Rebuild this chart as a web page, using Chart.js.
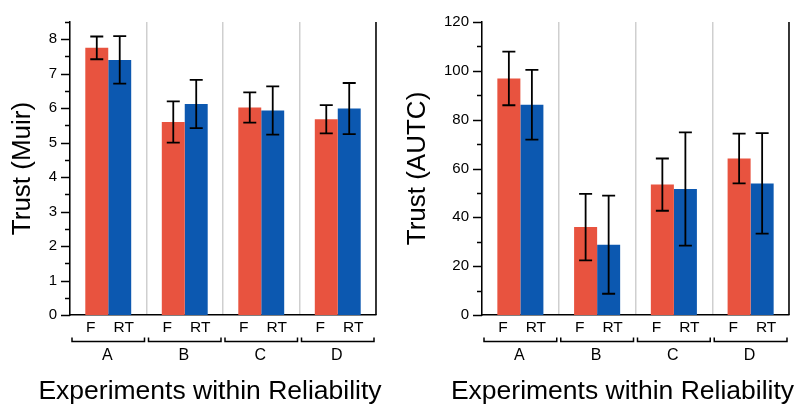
<!DOCTYPE html>
<html>
<head>
<meta charset="utf-8">
<script src="https://cdn.jsdelivr.net/npm/chart.js@4/dist/chart.umd.min.js"></script>
<style>
  body { margin: 0; background: #fff; }
  .box { position: absolute; top: 0; height: 411px; }
  #left { left: 0; width: 400px; }
  #right { left: 400px; width: 397px; }
</style>
</head>
<body>
<div class="box" id="left"><canvas id="muir"></canvas></div>
<div class="box" id="right"><canvas id="autc"></canvas></div>
<script>
const groups = ['A', 'B', 'C', 'D'];
const series = ['F', 'RT'];

// Trust (Muir): means and error half-widths
const muirF = [7.75, 5.60, 6.02, 5.68];
const muirFErr = [0.33, 0.60, 0.44, 0.41];
const muirRT = [7.40, 6.12, 5.93, 5.99];
const muirRTErr = [0.69, 0.70, 0.70, 0.74];

// Trust (AUTC)
const autcF = [96.9, 36.0, 53.4, 64.1];
const autcFErr = [11.0, 13.6, 10.7, 10.2];
const autcRT = [86.1, 28.8, 51.6, 53.9];
const autcRTErr = [14.3, 20.1, 23.2, 20.6];

const red = '#E8533F';
const blue = '#0C58B0';
const font = "'Liberation Sans', Arial, Helvetica, sans-serif";

function makeChart(id, cfg) {
  const extras = {
    id: 'extras',
    afterDraw(chart) {
      const ctx = chart.ctx;
      const area = chart.chartArea;
      const x = chart.scales.x;
      const y = chart.scales.y;
      ctx.save();
      ctx.strokeStyle = '#000';
      ctx.fillStyle = '#000';

      // right border
      ctx.lineWidth = 1.5;
      ctx.beginPath();
      ctx.moveTo(area.right, area.top);
      ctx.lineTo(area.right, area.bottom);
      ctx.stroke();

      // y ticks, major and minor
      for (let v = 0; v <= cfg.max + 1e-9; v += cfg.minor) {
        const py = Math.round(y.getPixelForValue(v)) + 0.5;
        const major = Math.abs(v / cfg.major - Math.round(v / cfg.major)) < 1e-6;
        ctx.beginPath();
        ctx.moveTo(area.left, py);
        ctx.lineTo(area.left - (major ? 9 : 5), py);
        ctx.stroke();
      }

      // error bars
      ctx.lineWidth = 1.8;
      [cfg.errF, cfg.errRT].forEach((errs, d) => {
        const meta = chart.getDatasetMeta(d);
        const vals = chart.data.datasets[d].data;
        meta.data.forEach((bar, i) => {
          const top = y.getPixelForValue(vals[i] + errs[i]);
          const bot = y.getPixelForValue(vals[i] - errs[i]);
          ctx.beginPath();
          ctx.moveTo(bar.x, top);
          ctx.lineTo(bar.x, bot);
          ctx.moveTo(bar.x - 6.5, top);
          ctx.lineTo(bar.x + 6.5, top);
          ctx.moveTo(bar.x - 6.5, bot);
          ctx.lineTo(bar.x + 6.5, bot);
          ctx.stroke();
        });
      });

      // F / RT labels, brackets and group names
      ctx.textAlign = 'center';
      ctx.textBaseline = 'middle';
      const half = (area.right - area.left) / groups.length / 2;
      groups.forEach((g, i) => {
        const fx = chart.getDatasetMeta(0).data[i].x;
        const rx = chart.getDatasetMeta(1).data[i].x;
        ctx.font = '15.5px ' + font;
        ctx.fillText(series[0], fx - 6, 328);
        ctx.fillText(series[1], rx + 4, 328);
        const cx = x.getPixelForValue(i);
        ctx.lineWidth = 1.5;
        ctx.beginPath();
        ctx.moveTo(cx - half + 2, 337.5);
        ctx.lineTo(cx - half + 2, 341.5);
        ctx.lineTo(cx + half - 2, 341.5);
        ctx.lineTo(cx + half - 2, 337.5);
        ctx.stroke();
        ctx.font = '16px ' + font;
        ctx.fillText(g, cx - 1, 356);
      });

      // x title
      ctx.font = '26.5px ' + font;
      ctx.fillText('Experiments within Reliability', (area.left + area.right) / 2 - 13, 392);
      ctx.restore();
    }
  };

  return new Chart(document.getElementById(id), {
    type: 'bar',
    data: {
      labels: groups,
      datasets: [
        { label: series[0], data: cfg.F, backgroundColor: red },
        { label: series[1], data: cfg.RT, backgroundColor: blue },
      ],
    },
    options: {
      responsive: true,
      maintainAspectRatio: false,
      animation: false,
      events: [],
      categoryPercentage: 0.6,
      barPercentage: 1.0,
      layout: { padding: { left: 0, right: cfg.padRight, top: cfg.padTop, bottom: 96 } },
      plugins: { legend: { display: false }, tooltip: { enabled: false } },
      scales: {
        x: {
          ticks: { display: false },
          grid: { color: '#cfcfcf', lineWidth: 1.5, offset: true, drawTicks: false },
          border: { display: true, color: '#000', width: 1.5 },
          afterFit: (s) => { s.height = 0; },
        },
        y: {
          min: 0,
          max: cfg.max,
          ticks: {
            stepSize: cfg.major,
            padding: 13,
            color: '#000',
            font: { family: font, size: 15 },
            callback: (v) => (Math.abs(v / cfg.major - Math.round(v / cfg.major)) < 1e-6 ? v : ''),
          },
          grid: { display: false, drawTicks: false },
          border: { display: true, color: '#000', width: 1.5 },
          title: {
            display: true,
            text: cfg.title,
            color: '#000',
            font: { family: font, size: 26 },
            padding: { top: cfg.titlePad, bottom: 0 },
          },
          afterFit: (s) => { s.width = cfg.axisWidth; },
        },
      },
    },
    plugins: [extras],
  });
}

makeChart('muir', {
  F: muirF, RT: muirRT, errF: muirFErr, errRT: muirRTErr,
  max: 8.5, major: 1, minor: 0.5,
  title: 'Trust (Muir)', titlePad: 7,
  axisWidth: 70, padRight: 24, padTop: 9,
});

makeChart('autc', {
  F: autcF, RT: autcRT, errF: autcFErr, errRT: autcRTErr,
  max: 120, major: 20, minor: 10,
  title: 'Trust (AUTC)', titlePad: 2,
  axisWidth: 82, padRight: 8, padTop: 8,
});
</script>
</body>
</html>
